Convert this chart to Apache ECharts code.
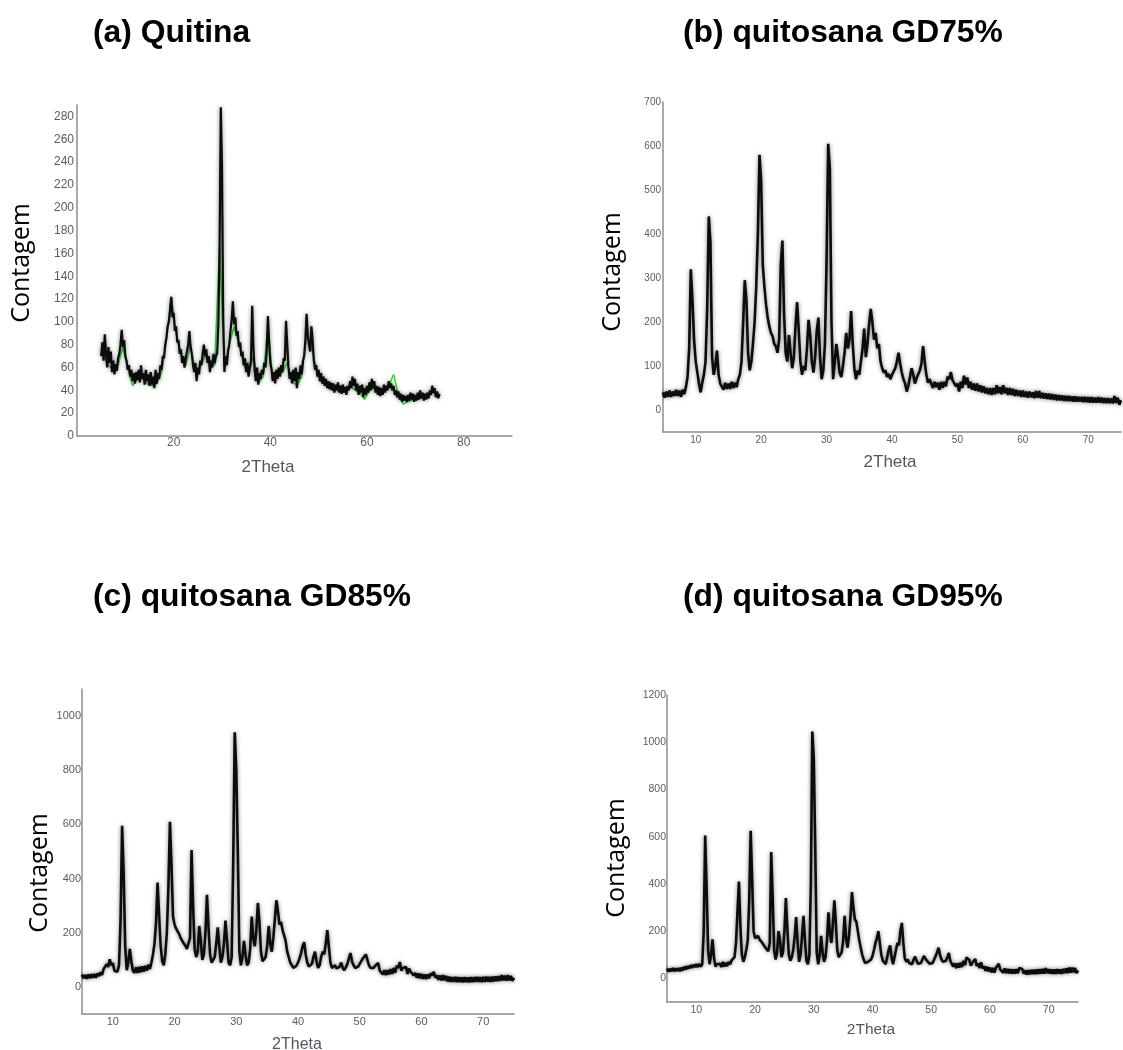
<!DOCTYPE html>
<html>
<head>
<meta charset="utf-8">
<script src="https://cdn.jsdelivr.net/npm/echarts@6/dist/echarts.min.js"></script>
<style>
  html, body { margin: 0; padding: 0; background: #ffffff; }
  #chart { width: 1123px; height: 1050px; }
</style>
</head>
<body>
<div id="chart"></div>
<script>
// XRD scans: 2θ from 5° to 75°, 0.25° step (one row = one degree)
const scanStart = 5;
const scanStep = 0.25;

// (a) chitin — counts per 2θ step
const quitina = [
  70, 82, 66, 89,  72, 60, 78, 64,  74, 56, 66, 54,  63, 57, 68, 72,
  80, 93, 78, 84,  70, 66, 58, 62,  52, 58, 48, 55,  46, 56, 49, 58,
  47, 62, 50, 55,  45, 58, 48, 54,  44, 56, 45, 52,  42, 58, 46, 55,
  50, 62, 58, 70,  68, 80, 86, 96,  100, 110, 122, 104,  108, 92, 96, 82,
  84, 72, 76, 64,  70, 60, 68, 74,  80, 92, 78, 72,  62, 56, 64, 48,
  60, 54, 66, 62,  72, 80, 70, 76,  64, 70, 56, 66,  60, 72, 64, 70,
  72, 98, 165, 288,  235, 104, 56, 70,  62, 74, 80, 92,  102, 118, 98, 104,
  88, 92, 78, 82,  70, 74, 62, 68,  56, 64, 52, 60,  66, 114, 78, 58,
  48, 60, 45, 55,  50, 58, 54, 64,  60, 74, 105, 82,  64, 58, 48, 56,
  46, 58, 50, 60,  52, 62, 56, 68,  66, 101, 80, 60,  50, 56, 46, 58,
  48, 60, 42, 56,  50, 62, 54, 66,  70, 84, 107, 88,  80, 74, 96, 84,
  66, 58, 62, 52,  58, 48, 55, 46,  52, 44, 50, 42,  48, 41, 47, 40,
  46, 38, 45, 40,  47, 38, 44, 37,  45, 38, 43, 36,  44, 40, 48, 42,
  52, 44, 50, 40,  46, 36, 44, 38,  45, 34, 42, 36,  44, 38, 47, 40,
  50, 42, 48, 38,  44, 36, 43, 35,  42, 36, 45, 38,  44, 40, 48, 42,
  46, 40, 44, 36,  40, 34, 39, 32,  37, 30, 36, 31,  35, 30, 36, 31,
  38, 32, 37, 30,  36, 31, 38, 32,  40, 33, 38, 31,  37, 32, 38, 33,
  40, 36, 44, 38,  42, 34, 39, 33,  37
];

// (a) second chitin scan, 1° step from 5.5° to 74.5°
const quitinaScan2Start = 5.5;
const quitinaScan2Step = 1;
const quitinaScan2 = [
  70, 62, 58, 62, 78, 60, 44, 50, 52, 46, 44, 46, 56, 84, 122, 90,
  72, 62, 80, 56, 60, 70, 66, 62, 165, 60, 80, 96, 80, 62, 54, 70,
  46, 52, 96, 50, 52, 56, 64, 48, 44, 52, 90, 78, 60, 50, 46, 42,
  40, 40, 38, 44, 40, 38, 32, 40, 42, 36, 40, 44, 54, 36, 28, 30,
  32, 32, 34, 34, 40, 34
];

// (b) chitosan DD 75%
const gd75 = [
  40, 28, 42, 30,  44, 30, 42, 32,  46, 32, 44, 30,  46, 36, 52, 75,
  140, 320, 250, 160,  110, 85, 60, 40,  62, 80, 110, 230,  440, 380, 120, 80,
  100, 135, 80, 60,  58, 46, 62, 48,  60, 48, 64, 50,  62, 52, 70, 80,
  110, 200, 295, 250,  130, 90, 110, 150,  200, 280, 400, 580,  520, 330, 280, 240,
  210, 190, 175, 168,  150, 145, 130, 160,  330, 385, 220, 130,  110, 170, 130, 95,
  120, 190, 245, 180,  110, 80, 100, 90,  140, 205, 170, 110,  85, 120, 180, 210,
  120, 70, 90, 150,  340, 605, 550, 200,  70, 110, 150, 120,  85, 75, 100, 130,
  175, 140, 160, 225,  150, 95, 70, 90,  80, 110, 140, 185,  120, 150, 195, 230,
  200, 160, 175, 140,  150, 110, 95, 85,  90, 75, 82, 70,  80, 78, 95, 110,
  130, 105, 85, 70,  60, 42, 55, 75,  95, 80, 60, 72,  68, 90, 105, 145,
  110, 80, 62, 70,  66, 50, 64, 52,  62, 46, 64, 50,  64, 54, 76, 70,
  86, 68, 72, 54,  60, 42, 64, 50,  78, 58, 74, 50,  64, 46, 60, 44,
  60, 42, 56, 40,  54, 38, 50, 36,  50, 34, 50, 36,  56, 38, 52, 36,
  56, 38, 50, 34,  50, 34, 48, 32,  46, 32, 44, 30,  44, 30, 42, 28,
  42, 29, 40, 27,  43, 28, 43, 27,  39, 26, 38, 25,  37, 24, 36, 23,
  35, 22, 34, 22,  33, 21, 32, 20,  32, 20, 31, 19,  31, 19, 30, 19,
  30, 18, 30, 18,  29, 17, 29, 17,  28, 17, 29, 17,  28, 16, 27, 16,
  27, 16, 26, 15,  32, 16, 28, 12,  22
];

// (c) chitosan DD 85%
const gd85 = [
  46, 32, 44, 30,  46, 32, 47, 34,  48, 34, 50, 40,  54, 44, 66, 68,
  84, 74, 102, 80,  88, 60, 66, 56,  80, 250, 595, 420,  150, 62, 90, 140,
  95, 60, 52, 72,  52, 74, 54, 76,  56, 78, 60, 82,  66, 90, 120, 160,
  240, 385, 260, 150,  95, 80, 120, 200,  370, 610, 450, 260,  230, 215, 205, 195,
  180, 170, 160, 152,  140, 135, 180, 505,  300, 140, 110, 130,  225, 170, 100, 120,
  200, 340, 220, 120,  90, 95, 110, 160,  220, 150, 90, 110,  160, 245, 170, 90,
  80, 110, 460, 940,  800, 500, 130, 80,  110, 170, 120, 80,  90, 140, 260, 180,
  150, 210, 310, 240,  130, 95, 90, 110,  150, 225, 160, 130,  180, 250, 320, 280,
  230, 240, 210, 190,  170, 130, 110, 90,  80, 70, 68, 78,  90, 105, 125, 150,
  165, 120, 90, 75,  70, 85, 110, 130,  95, 70, 80, 110,  130, 120, 160, 210,
  150, 90, 70, 65,  80, 68, 62, 75,  90, 70, 62, 72,  85, 105, 125, 95,
  80, 70, 65, 75,  85, 95, 105, 110,  120, 100, 80, 70,  65, 70, 78, 85,
  88, 60, 64, 46,  62, 44, 62, 46,  66, 48, 70, 52,  78, 70, 92, 60,
  70, 66, 74, 48,  68, 56, 62, 42,  52, 34, 50, 32,  48, 30, 46, 29,
  46, 32, 50, 42,  56, 34, 43, 26,  42, 24, 44, 24,  41, 20, 38, 19,
  36, 19, 37, 18,  36, 18, 35, 17,  36, 18, 35, 17,  36, 18, 36, 19,
  37, 19, 36, 18,  37, 19, 38, 20,  37, 19, 38, 20,  39, 21, 40, 22,
  44, 24, 42, 23,  44, 24, 41, 22,  34
];

// (d) chitosan DD 95%
const gd95 = [
  42, 28, 41, 30,  44, 30, 42, 32,  44, 30, 46, 34,  50, 38, 52, 42,
  56, 44, 58, 48,  60, 48, 61, 50,  60, 200, 605, 380,  120, 60, 100, 165,
  90, 50, 60, 52,  62, 48, 70, 50,  66, 52, 70, 60,  76, 70, 90, 150,
  280, 410, 220, 100,  70, 90, 120, 160,  330, 625, 420, 200,  170, 165, 180, 165,
  160, 150, 145, 130,  125, 115, 150, 535,  340, 120, 80, 110,  200, 160, 90, 110,
  200, 340, 210, 100,  75, 90, 120, 180,  260, 150, 70, 100,  180, 265, 160, 75,
  60, 100, 400, 1045,  930, 550, 110, 60,  100, 180, 110, 70,  90, 160, 280, 190,
  150, 230, 330, 240,  120, 90, 85, 110,  160, 265, 170, 130,  180, 260, 365, 300,
  250, 240, 200, 160,  130, 100, 80, 65,  60, 70, 65, 80,  95, 120, 150, 170,
  200, 150, 100, 75,  70, 60, 90, 120,  140, 90, 60, 90,  120, 150, 140, 200,
  235, 150, 85, 70,  80, 65, 72, 60,  80, 92, 75, 62,  70, 65, 80, 95,
  85, 75, 68, 62,  70, 65, 80, 95,  110, 130, 100, 80,  70, 62, 75, 90,
  108, 74, 72, 50,  64, 44, 64, 46,  66, 48, 74, 56,  88, 82, 78, 54,
  66, 58, 82, 52,  64, 44, 68, 42,  52, 32, 50, 30,  46, 26, 44, 24,
  44, 36, 62, 38,  46, 24, 42, 22,  40, 21, 39, 20,  38, 20, 39, 22,
  44, 50, 40, 20,  34, 16, 35, 17,  36, 18, 37, 18,  38, 19, 39, 20,
  40, 20, 44, 22,  39, 20, 38, 19,  38, 19, 39, 20,  38, 19, 40, 22,
  42, 22, 46, 24,  46, 26, 44, 22,  34
];

const panelTitles = ['(a) Quitina', '(b) quitosana GD75%', '(c) quitosana GD85%', '(d) quitosana GD95%'];
const xAxisTitle = '2Theta';
const yAxisTitle = 'Contagem';

const yTickLabels = [
  [0, 20, 40, 60, 80, 100, 120, 140, 160, 180, 200, 220, 240, 260, 280],
  [0, 100, 200, 300, 400, 500, 600, 700],
  [0, 200, 400, 600, 800, 1000],
  [0, 200, 400, 600, 800, 1000, 1200]
];
const xTickLabels = [
  [20, 40, 60, 80],
  [10, 20, 30, 40, 50, 60, 70],
  [10, 20, 30, 40, 50, 60, 70],
  [10, 20, 30, 40, 50, 60, 70]
];

// panel geometry, axis ranges and trace weight
const panels = [
  { grid: { left: 77, top: 105, width: 435, height: 331 }, x: [0, 90], y: [0, 290], font: 12, xMargin: 1, yMargin: 3,
    title: [93, 33], yTitle: [22, 263], xTitle: [268, 467], xTitleSize: 17, lineWidth: 2.2 },
  { grid: { left: 663, top: 102, width: 458, height: 330 }, x: [5, 75], y: [-50, 700], font: 10, xMargin: 3, yMargin: 2,
    title: [683, 33], yTitle: [613, 272], xTitle: [890, 462], xTitleSize: 17, lineWidth: 2.6 },
  { grid: { left: 82, top: 689, width: 432, height: 325 }, x: [5, 75], y: [-100, 1100], font: 11, xMargin: 2, yMargin: 1,
    title: [93, 597], yTitle: [40, 873], xTitle: [297, 1045], xTitleSize: 16, lineWidth: 2.6 },
  { grid: { left: 667, top: 695, width: 411, height: 307 }, x: [5, 75], y: [-100, 1200], font: 10.5, xMargin: 3, yMargin: 1,
    title: [683, 597], yTitle: [617, 858], xTitle: [871, 1030], xTitleSize: 15.5, lineWidth: 2.6 }
];

const scans = [quitina, gd75, gd85, gd95];

function toPoints(values, start, step) {
  return values.map((v, i) => [start + i * step, v]);
}

const labelColor = '#5a5a66';
const axisColor = '#8c8c8c';
const plainNumber = v => String(v);

const option = {
  animation: false,
  backgroundColor: '#ffffff',
  grid: panels.map(p => Object.assign({ containLabel: false }, p.grid)),
  xAxis: panels.map((p, i) => ({
    type: 'value', gridIndex: i, min: p.x[0], max: p.x[1],
    axisLine: { onZero: false, lineStyle: { color: axisColor, width: 1.5 } },
    axisTick: { show: false },
    splitLine: { show: false },
    axisLabel: { customValues: xTickLabels[i], formatter: plainNumber, color: labelColor, fontSize: p.font,
      fontFamily: 'Liberation Sans, Arial, sans-serif', margin: p.xMargin }
  })),
  yAxis: panels.map((p, i) => ({
    type: 'value', gridIndex: i, min: p.y[0], max: p.y[1],
    axisLine: { show: true, onZero: false, lineStyle: { color: axisColor, width: 1.5 } },
    axisTick: { show: false },
    splitLine: { show: false },
    axisLabel: { customValues: yTickLabels[i], formatter: plainNumber, color: labelColor, fontSize: p.font,
      fontFamily: 'Liberation Sans, Arial, sans-serif', margin: p.yMargin }
  })),
  series: [
    {
      type: 'line', xAxisIndex: 0, yAxisIndex: 0, showSymbol: false, z: 1,
      data: toPoints(quitinaScan2, quitinaScan2Start, quitinaScan2Step),
      lineStyle: { color: '#2fe02f', width: 1.6 }
    }
  ].concat(scans.map((vals, i) => ({
    type: 'line', xAxisIndex: i, yAxisIndex: i, showSymbol: false, z: 2,
    data: toPoints(vals, scanStart, scanStep),
    lineStyle: { color: '#0c0c0c', width: panels[i].lineWidth, shadowColor: 'rgba(0,0,0,0.5)', shadowBlur: 4 }
  }))),
  graphic: panels.flatMap((p, i) => [
    { type: 'text', x: p.title[0], y: p.title[1],
      style: { text: panelTitles[i], font: 'bold 31.8px "Liberation Sans", Arial, sans-serif', fill: '#000',
        textAlign: 'left', textVerticalAlign: 'middle' } },
    { type: 'text', x: p.yTitle[0], y: p.yTitle[1], rotation: Math.PI / 2,
      style: { text: yAxisTitle, font: '25px "Open Sans", sans-serif', fill: '#000',
        textAlign: 'center', textVerticalAlign: 'middle' } },
    { type: 'text', x: p.xTitle[0], y: p.xTitle[1],
      style: { text: xAxisTitle, font: p.xTitleSize + 'px "Liberation Sans", Arial, sans-serif', fill: '#555560',
        textAlign: 'center', textVerticalAlign: 'middle' } }
  ])
};

const chart = echarts.init(document.getElementById('chart'), null, { renderer: 'canvas' });
chart.setOption(option);
</script>
</body>
</html>
